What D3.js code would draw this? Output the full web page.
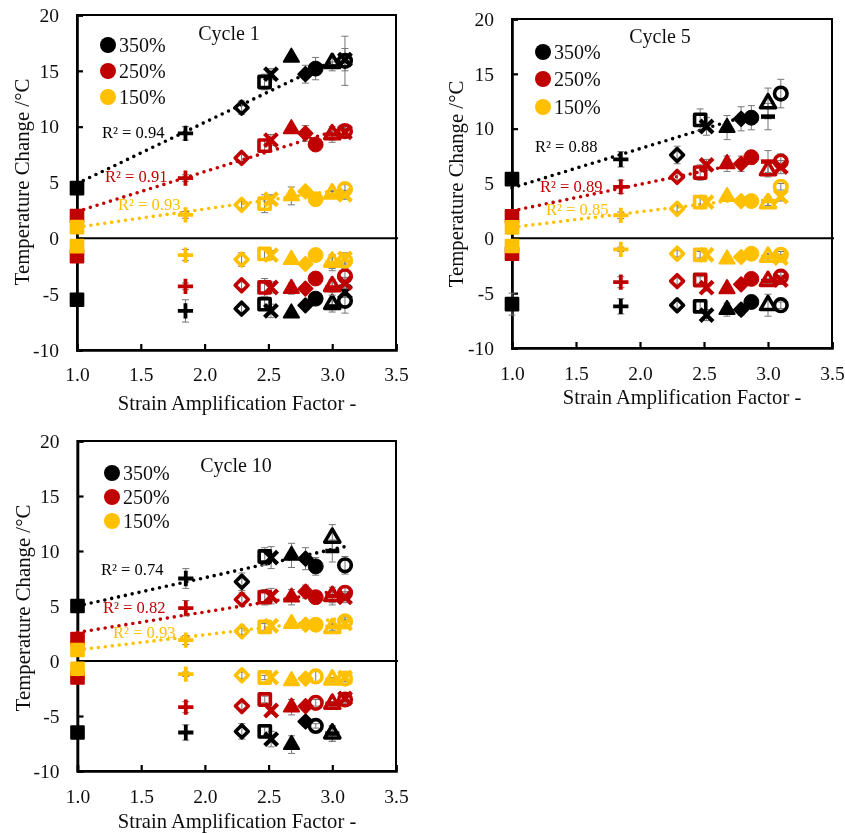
<!DOCTYPE html>
<html>
<head>
<meta charset="utf-8">
<script src="https://cdn.jsdelivr.net/npm/d3@7"></script>
<style>
  html, body { margin: 0; padding: 0; background: #fff; }
  text { font-family: "Liberation Serif", serif; fill: #111; }
</style>
</head>
<body>
<svg id="chart" width="845" height="833">
  <defs><filter id="soft" x="0" y="0" width="100%" height="100%"><feGaussianBlur stdDeviation="0.35"/></filter></defs>
</svg>
<script>
// one factor per specimen, the same for all panels
const factors = [1.0, 1.85, 2.29, 2.47, 2.52, 2.68, 2.79, 2.87, 3.0, 3.0, 3.1, 3.1];
const shapes = ["square", "plus", "diamondO", "squareO", "x", "tri", "diamond", "circle", "dash", "triO", "circleO", "x"];
const coolShapes10 = ["square", "plus", "diamondO", "squareO", "x", "tri", "diamond", "circleO", "dash", "triO", "circleO", "x"];

const strains = ["350%", "250%", "150%"];
const colors = ["#000000", "#c00000", "#ffc000"];
const xTicks = [1.0, 1.5, 2.0, 2.5, 3.0, 3.5];
const yTicks = [-10, -5, 0, 5, 10, 15, 20];

// cycle 1, null where the picture shows no mark
const c1Heat350 = [4.5, 9.4, 11.7, 14.0, 14.7, 16.2, 14.7, 15.2, 15.4, 15.7, 15.9, 16.0];
const c1Heat350Err = [0.2, 0.6, 0.6, 0.7, 0.5, 0.2, 0.8, 1.0, 0.4, 0.4, 2.2, 1.0];
const c1Heat250 = [2.0, 5.4, 7.2, 8.3, 8.8, 9.8, 9.4, 8.4, 9.3, 9.3, 9.6, 9.5];
const c1Heat250Err = [0.1, 0.3, 0.3, 0.5, 0.5, 0.3, 0.7, 0.2, 0.7, 0.5, 0.5, 0.5];
const c1Heat150 = [1.0, 2.1, 3.0, 3.1, 3.5, 3.8, 4.2, 3.5, 3.9, 4.0, 4.4, 3.9];
const c1Heat150Err = [0.1, 0.3, 0.3, 0.8, 0.4, 0.8, 0.3, 0.2, 0.3, 0.3, 0.4, 0.4];
const c1Cool350 = [-5.5, -6.5, -6.3, -5.9, -6.5, -6.7, -6.0, -5.4, -6.1, -5.9, -5.6, -4.8];
const c1Cool350Err = [0.2, 1.0, 0.4, 0.5, 0.6, 0.2, 0.3, 0.2, 0.5, 0.5, 1.1, 0.5];
const c1Cool250 = [-1.6, -4.3, -4.2, -4.4, -4.4, -4.5, -4.5, -3.6, -4.4, -4.3, -3.4, -4.0];
const c1Cool250Err = [0.1, 0.3, 0.3, 0.8, 0.5, 0.5, 0.2, 0.2, 0.7, 0.5, 0.7, 0.5];
const c1Cool150 = [-0.7, -1.5, -1.9, -1.4, -1.5, -1.9, -2.3, -1.5, -2.2, -2.1, -2.0, -1.8];
const c1Cool150Err = [0.1, 0.5, 0.6, 0.5, 0.4, 0.2, 0.2, 0.2, 0.7, 0.6, 0.6, 0.5];

// cycle 5
const c5Heat350 = [5.4, 7.2, 7.6, 10.8, 10.2, 10.1, 10.9, 11.0, 11.1, 12.3, 13.2, null];
const c5Heat350Err = [0.2, 0.7, 0.8, 1.0, 0.8, 1.1, 1.1, 1.1, 1.2, 1.4, 1.3, 0];
const c5Heat250 = [2.0, 4.7, 5.6, 6.0, 6.7, 6.8, 6.8, 7.4, 7.0, 6.2, 7.0, 6.5];
const c5Heat250Err = [0.1, 0.6, 0.3, 0.7, 0.5, 0.7, 0.7, 0.6, 1.0, 0.6, 0.7, 0.6];
const c5Heat150 = [1.0, 2.1, 2.7, 3.3, 3.3, 3.8, 3.4, 3.4, 3.4, 3.2, 4.7, 3.8];
const c5Heat150Err = [0.1, 0.3, 0.3, 0.4, 0.3, 0.3, 0.2, 0.2, 0.4, 0.3, 0.3, 0.4];
const c5Cool350 = [-6.0, -6.2, -6.1, -6.2, -7.0, -6.5, -6.5, -5.8, null, -6.1, -6.1, null];
const c5Cool350Err = [1.0, 0.7, 0.5, 0.5, 0.5, 0.6, 0.5, 0.2, 0, 1.0, 0.3, 0];
const c5Cool250 = [-1.4, -4.0, -3.9, -3.8, -4.5, -4.6, -4.2, -3.7, -3.9, -3.9, -3.5, -3.8];
const c5Cool250Err = [0.1, 0.5, 0.3, 0.3, 0.3, 0.2, 0.2, 0.2, 0.2, 0.2, 0.4, 0.4];
const c5Cool150 = [-0.7, -1.0, -1.4, -1.5, -1.5, -1.9, -1.7, -1.4, -1.7, -1.7, -1.5, -1.8];
const c5Cool150Err = [0.1, 0.2, 0.3, 0.3, 0.2, 0.2, 0.2, 0.2, 0.3, 0.3, 0.3, 0.3];

// cycle 10
const c10Heat350 = [5.0, 7.5, 7.2, 9.5, 9.4, 9.6, 9.3, 8.6, 10.0, 11.2, 8.7, null];
const c10Heat350Err = [0.2, 0.9, 0.8, 0.8, 1.0, 1.1, 1.0, 0.8, 1.0, 1.2, 0.8, 0];
const c10Heat250 = [2.0, 4.8, 5.6, 5.8, 5.9, 5.8, 6.3, 5.8, 5.9, 5.9, 6.2, 5.8];
const c10Heat250Err = [0.1, 0.7, 0.6, 0.7, 0.7, 0.7, 0.6, 0.3, 0.8, 0.6, 0.5, 0.5];
const c10Heat150 = [1.0, 1.9, 2.7, 3.1, 3.2, 3.4, 3.3, 3.3, 3.1, 3.0, 3.6, 3.4];
const c10Heat150Err = [0.1, 0.4, 0.3, 0.3, 0.3, 0.4, 0.2, 0.2, 0.3, 0.3, 0.4, 0.4];
const c10Cool350 = [-6.5, -6.5, -6.4, -6.4, -7.1, -7.6, -5.5, -5.9, -6.6, -6.6, null, null];
const c10Cool350Err = [0.2, 0.7, 0.7, 0.4, 0.7, 0.8, 0.2, 0.2, 0.7, 0.7, 0, 0];
const c10Cool250 = [-1.5, -4.2, -4.1, -3.5, -4.5, -4.2, -4.1, -3.8, -3.9, -3.9, -3.5, -3.4];
const c10Cool250Err = [0.1, 0.5, 0.3, 0.3, 0.3, 0.7, 0.3, 0.3, 0.2, 0.2, 0.5, 0.5];
const c10Cool150 = [-0.7, -1.2, -1.3, -1.5, -1.5, -1.8, -1.6, -1.4, -1.7, -1.7, -1.6, -1.5];
const c10Cool150Err = [0.1, 0.2, 0.3, 0.2, 0.2, 0.2, 0.2, 0.6, 0.2, 0.2, 0.3, 0.3];

// fitted lines, value at factor 1.0 and at the end of the fit
const c1TrendX = [1.0, 3.1];
const c1Trend = [[4.9, 16.4], [2.4, 9.9], [1.0, 4.4]];
const c5TrendX = [1.0, 2.9];
const c5Trend = [[4.6, 11.4], [2.5, 7.1], [1.0, 3.7]];
const c10TrendX = [1.0, 3.1];
const c10Trend = [[5.0, 10.4], [2.6, 6.5], [1.0, 3.9]];

const c1R2 = ["R² = 0.94", "R² = 0.91", "R² = 0.93"];
const c5R2 = ["R² = 0.88", "R² = 0.89", "R² = 0.85"];
const c10R2 = ["R² = 0.74", "R² = 0.82", "R² = 0.93"];

const panels = [
  { name: "Cycle 1", left: 77, right: 396, top: 15, bottom: 350, titleX: 229, titleY: 33,
    legendX: 108, legendY: [45, 71, 97], r2X: [102, 105, 118], r2Y: [132, 176, 204],
    xTickY: 374, xTitleY: 403, xTitleX: 237, yTitleX: 21, yTitleY: 182, shapesCool: shapes,
    heat: [c1Heat350, c1Heat250, c1Heat150], heatErr: [c1Heat350Err, c1Heat250Err, c1Heat150Err],
    cool: [c1Cool350, c1Cool250, c1Cool150], coolErr: [c1Cool350Err, c1Cool250Err, c1Cool150Err],
    trend: c1Trend, trendX: c1TrendX, r2: c1R2 },
  { name: "Cycle 5", left: 512, right: 832, top: 19, bottom: 348, titleX: 660, titleY: 36,
    legendX: 543, legendY: [52, 79, 107], r2X: [535, 540, 546], r2Y: [146, 186, 209],
    xTickY: 373, xTitleY: 397, xTitleX: 682, yTitleX: 455, yTitleY: 184, shapesCool: shapes,
    heat: [c5Heat350, c5Heat250, c5Heat150], heatErr: [c5Heat350Err, c5Heat250Err, c5Heat150Err],
    cool: [c5Cool350, c5Cool250, c5Cool150], coolErr: [c5Cool350Err, c5Cool250Err, c5Cool150Err],
    trend: c5Trend, trendX: c5TrendX, r2: c5R2 },
  { name: "Cycle 10", left: 77.5, right: 396, top: 441, bottom: 771, titleX: 236, titleY: 465,
    legendX: 112, legendY: [473, 497, 521], r2X: [101, 103, 113], r2Y: [569, 607, 632],
    xTickY: 796, xTitleY: 821, xTitleX: 237, yTitleX: 22, yTitleY: 608, shapesCool: coolShapes10,
    heat: [c10Heat350, c10Heat250, c10Heat150], heatErr: [c10Heat350Err, c10Heat250Err, c10Heat150Err],
    cool: [c10Cool350, c10Cool250, c10Cool150], coolErr: [c10Cool350Err, c10Cool250Err, c10Cool150Err],
    trend: c10Trend, trendX: c10TrendX, r2: c10R2 }
];

const dash = { draw(ctx) { ctx.moveTo(-7, 0); ctx.lineTo(7, 0); } };

const markers = {
  square:   { type: d3.symbolSquare, size: 160, filled: true, sw: 2 },
  plus:     { type: d3.symbolPlus, size: 78, filled: false, sw: 3.8 },
  diamondO: { type: d3.symbolDiamond2, size: 105, filled: false, sw: 3.6 },
  squareO:  { type: d3.symbolSquare, size: 125, filled: false, sw: 3.6 },
  x:        { type: d3.symbolX, size: 110, filled: false, sw: 4.2 },
  tri:      { type: d3.symbolTriangle, size: 100, filled: true, sw: 2 },
  diamond:  { type: d3.symbolDiamond2, size: 130, filled: true, sw: 2 },
  circle:   { type: d3.symbolCircle, size: 175, filled: true, sw: 1 },
  dash:     { type: dash, size: 1, filled: false, sw: 4.5 },
  triO:     { type: d3.symbolTriangle, size: 100, filled: false, sw: 3.5 },
  circleO:  { type: d3.symbolCircle, size: 125, filled: false, sw: 3.6 }
};

const svg = d3.select("#chart");
const root = svg.append("g").attr("filter", "url(#soft)");

function drawSeries(g, x, y, values, errs, color, shapeNames) {
  const rows = values
    .map((v, i) => ({ x: factors[i], v, e: errs[i], shape: shapeNames[i] }))
    .filter(d => d.v !== null);

  // error bars go under the markers, so only the open ones show them
  const bars = g.append("g").attr("stroke", "#777").attr("stroke-width", 1);
  bars.selectAll("line.stem")
    .data(rows)
    .enter().append("line").attr("class", "stem")
    .attr("x1", d => x(d.x)).attr("x2", d => x(d.x))
    .attr("y1", d => y(d.v - d.e)).attr("y2", d => y(d.v + d.e));
  bars.selectAll("line.capTop")
    .data(rows)
    .enter().append("line").attr("class", "capTop")
    .attr("x1", d => x(d.x) - 3.5).attr("x2", d => x(d.x) + 3.5)
    .attr("y1", d => y(d.v + d.e)).attr("y2", d => y(d.v + d.e));
  bars.selectAll("line.capBottom")
    .data(rows)
    .enter().append("line").attr("class", "capBottom")
    .attr("x1", d => x(d.x) - 3.5).attr("x2", d => x(d.x) + 3.5)
    .attr("y1", d => y(d.v - d.e)).attr("y2", d => y(d.v - d.e));

  g.append("g").selectAll("path")
    .data(rows)
    .enter().append("path")
    .attr("transform", d => `translate(${x(d.x)},${y(d.v)})`)
    .attr("d", d => d3.symbol().type(markers[d.shape].type).size(markers[d.shape].size)())
    .attr("fill", d => markers[d.shape].filled ? color : "none")
    .attr("stroke", color)
    .attr("stroke-width", d => markers[d.shape].sw)
    .attr("stroke-linejoin", "round");
}

panels.forEach(function(p) {
  const x = d3.scaleLinear().domain([1, 3.5]).range([p.left, p.right]);
  const y = d3.scaleLinear().domain([-10, 20]).range([p.bottom, p.top]);
  const g = root.append("g");

  g.append("rect")
    .attr("x", p.left).attr("y", p.top)
    .attr("width", p.right - p.left).attr("height", p.bottom - p.top)
    .attr("fill", "none").attr("stroke", "#000").attr("stroke-width", 2);

  const yAxis = g.append("g")
    .attr("transform", `translate(${p.left},0)`)
    .call(d3.axisLeft(y).tickValues(yTicks).tickFormat(d => String(d)).tickSize(-6).tickPadding(18));
  const xAxis = g.append("g")
    .attr("transform", `translate(0,${p.bottom})`)
    .call(d3.axisBottom(x).tickValues(xTicks).tickFormat(d3.format(".1f")).tickSize(-6).tickPadding(0));

  [yAxis, xAxis].forEach(function(a) {
    a.select(".domain").attr("stroke", "#000").attr("stroke-width", 2.6);
    a.selectAll(".tick line").attr("stroke", "#000").attr("stroke-width", 2.2);
    a.selectAll("text").style("font-family", "Liberation Serif").style("font-size", "19.5px").attr("fill", "#111");
  });
  xAxis.selectAll("text").attr("dy", null).attr("y", p.xTickY - p.bottom).attr("dominant-baseline", "central");

  g.append("line")
    .attr("x1", p.left).attr("x2", p.right + 2)
    .attr("y1", y(0)).attr("y2", y(0))
    .attr("stroke", "#000").attr("stroke-width", 2);

  p.trend.forEach(function(t, i) {
    g.append("line")
      .attr("x1", x(p.trendX[0])).attr("x2", x(p.trendX[1]))
      .attr("y1", y(t[0])).attr("y2", y(t[1]))
      .attr("stroke", colors[i]).attr("stroke-width", 3.6)
      .attr("stroke-linecap", "round").attr("stroke-dasharray", "0 7");
  });

  strains.forEach(function(s, i) {
    drawSeries(g, x, y, p.heat[i], p.heatErr[i], colors[i], shapes);
    drawSeries(g, x, y, p.cool[i], p.coolErr[i], colors[i], p.shapesCool);
  });

  g.selectAll("circle.legend")
    .data(strains)
    .enter().append("circle").attr("class", "legend")
    .attr("cx", p.legendX).attr("cy", (d, i) => p.legendY[i])
    .attr("r", 8).attr("fill", (d, i) => colors[i]);
  g.selectAll("text.legend")
    .data(strains)
    .enter().append("text").attr("class", "legend")
    .attr("x", p.legendX + 11).attr("y", (d, i) => p.legendY[i])
    .attr("dominant-baseline", "central")
    .style("font-size", "20px")
    .text(d => d);

  g.selectAll("text.r2")
    .data(p.r2)
    .enter().append("text").attr("class", "r2")
    .attr("x", (d, i) => p.r2X[i]).attr("y", (d, i) => p.r2Y[i])
    .attr("dominant-baseline", "central")
    .style("font-size", "16.5px")
    .style("fill", (d, i) => colors[i])
    .text(d => d);

  g.append("text")
    .attr("x", p.titleX).attr("y", p.titleY)
    .attr("text-anchor", "middle").attr("dominant-baseline", "central")
    .style("font-size", "20px")
    .text(p.name);

  g.append("text")
    .attr("x", p.xTitleX).attr("y", p.xTitleY)
    .attr("text-anchor", "middle").attr("dominant-baseline", "central")
    .style("font-size", "20.6px")
    .text("Strain Amplification Factor -");

  g.append("text")
    .attr("transform", `translate(${p.yTitleX},${p.yTitleY}) rotate(-90)`)
    .attr("text-anchor", "middle").attr("dominant-baseline", "central")
    .style("font-size", "20.8px")
    .text("Temperature Change /°C");
});
</script>
</body>
</html>
